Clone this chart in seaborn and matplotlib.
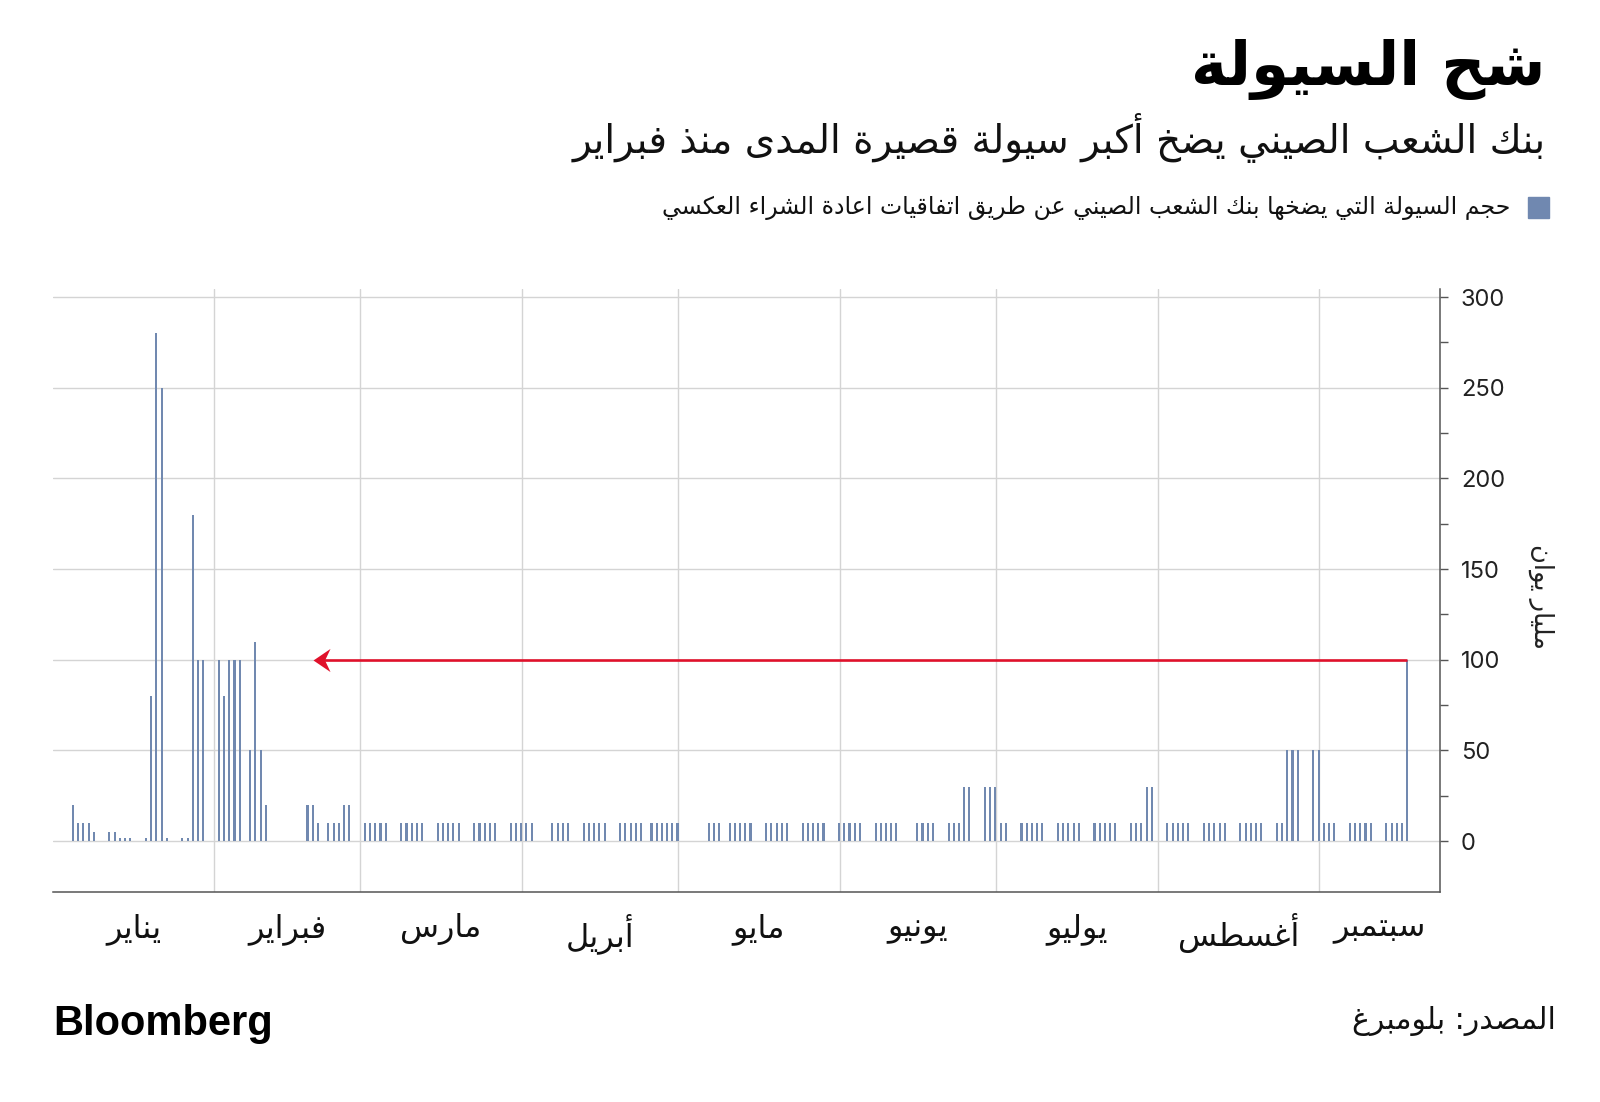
import numpy as np
import pandas as pd
import seaborn as sns
import matplotlib.pyplot as plt
import matplotlib.dates as mdates
from matplotlib.path import Path

# PBOC reverse repo injections, bn yuan, one run of consecutive calendar days per row
run_starts = ['2021-01-04', '2021-01-11', '2021-01-18', '2021-01-25',
              '2021-02-01', '2021-02-07', '2021-02-18', '2021-02-22',
              '2021-03-01', '2021-03-08', '2021-03-15', '2021-03-22', '2021-03-29',
              '2021-04-06', '2021-04-12', '2021-04-19', '2021-04-25',
              '2021-05-06', '2021-05-10', '2021-05-17', '2021-05-24', '2021-05-31',
              '2021-06-07', '2021-06-15', '2021-06-21', '2021-06-28',
              '2021-07-05', '2021-07-12', '2021-07-19', '2021-07-26',
              '2021-08-02', '2021-08-09', '2021-08-16', '2021-08-23', '2021-08-30',
              '2021-09-06', '2021-09-13']
run_values = [[20, 10, 10, 10, 5], [5, 5, 2, 2, 2], [2, 80, 280, 250, 2], [2, 2, 180, 100, 100],
              [100, 80, 100, 100, 100], [50, 110, 50, 20], [20, 20, 10], [10, 10, 10, 20, 20],
              [10] * 5, [10] * 5, [10] * 5, [10] * 5, [10] * 5,
              [10] * 4, [10] * 5, [10] * 5, [10] * 6,
              [10] * 3, [10] * 5, [10] * 5, [10] * 5, [10] * 5,
              [10] * 5, [10] * 4, [10, 10, 10, 30, 30], [30, 30, 30, 10, 10],
              [10] * 5, [10] * 5, [10] * 5, [10, 10, 10, 30, 30],
              [10] * 5, [10] * 5, [10] * 5, [10, 10, 50, 50, 50], [50, 50, 10, 10, 10],
              [10] * 5, [10, 10, 10, 10, 100]]

month_starts = ['2021-01-01', '2021-02-01', '2021-03-01', '2021-04-01', '2021-05-01',
                '2021-06-01', '2021-07-01', '2021-08-01', '2021-09-01']
month_names = ['يناير', 'فبراير', 'مارس', 'أبريل', 'مايو', 'يونيو', 'يوليو', 'أغسطس', 'سبتمبر']
x_end = '2021-09-24 04:00'
y_ticks = [0, 50, 100, 150, 200, 250, 300]

arrow_level = 100
arrow_from = '2021-09-17'
arrow_to = '2021-02-19'

title = 'شح السيولة'
subtitle = 'بنك الشعب الصيني يضخ أكبر سيولة قصيرة المدى منذ فبراير'
legend_text = 'حجم السيولة التي يضخها بنك الشعب الصيني عن طريق اتفاقيات اعادة الشراء العكسي'
y_label = 'مليار يوان'
source = 'المصدر: بلومبرغ'

BAR = '#7189b0'
RED = '#e0112b'
GRID = '#d4d4d4'
AXIS = '#555555'
SHIFT = 0.87  # bars sit a little after the day start

# --- tiny arabic shaper (matplotlib has no RTL / joining) ---
FOUR = {'ب': 0xFE8F, 'ت': 0xFE95, 'ث': 0xFE99, 'ج': 0xFE9D, 'ح': 0xFEA1, 'خ': 0xFEA5,
        'س': 0xFEB1, 'ش': 0xFEB5, 'ص': 0xFEB9, 'ض': 0xFEBD, 'ط': 0xFEC1, 'ظ': 0xFEC5,
        'ع': 0xFEC9, 'غ': 0xFECD, 'ف': 0xFED1, 'ق': 0xFED5, 'ك': 0xFED9, 'ل': 0xFEDD,
        'م': 0xFEE1, 'ن': 0xFEE5, 'ه': 0xFEE9, 'ي': 0xFEF1, 'ئ': 0xFE89}
TWO = {'آ': 0xFE81, 'أ': 0xFE83, 'ؤ': 0xFE85, 'إ': 0xFE87, 'ا': 0xFE8D, 'ة': 0xFE93,
       'د': 0xFEA9, 'ذ': 0xFEAB, 'ر': 0xFEAD, 'ز': 0xFEAF, 'و': 0xFEED, 'ى': 0xFEEF}
ONE = {'ء': 0xFE80}
LAM_ALEF = {'آ': 0xFEF5, 'أ': 0xFEF7, 'إ': 0xFEF9, 'ا': 0xFEFB}


def ar(text):
    out = []
    i, n = 0, len(text)
    while i < n:
        c = text[i]
        prev = text[i - 1] if i > 0 else ''
        nxt = text[i + 1] if i + 1 < n else ''
        p = prev in FOUR
        if c == 'ل' and nxt in LAM_ALEF:
            out.append(chr(LAM_ALEF[nxt] + (1 if p else 0)))
            i += 2
            continue
        if c in FOUR:
            q = nxt in FOUR or nxt in TWO
            b = FOUR[c]
            out.append(chr(b + 3 if p and q else b + 1 if p else b + 2 if q else b))
        elif c in TWO:
            out.append(chr(TWO[c] + (1 if p else 0)))
        elif c in ONE:
            out.append(chr(ONE[c]))
        else:
            out.append(c)
        i += 1
    return ''.join(out)[::-1]


sns.set_style('white')
plt.rcParams['font.family'] = ['DejaVu Sans']

dates = []
vals = []
for start, v in zip(run_starts, run_values):
    dates.extend(pd.date_range(start, periods=len(v), freq='D'))
    vals.extend(v)
xs = mdates.date2num(pd.DatetimeIndex(dates).to_pydatetime()) + SHIFT

fig = plt.figure(figsize=(16, 11.02), dpi=100)
ax = fig.add_axes([0.033, 0.1906, 0.867, 0.5472])

sns.barplot(x=xs, y=vals, native_scale=True, width=0.4, color=BAR, saturation=1,
            errorbar=None, linewidth=0, ax=ax)

# arrow
ax_from = mdates.date2num(pd.Timestamp(arrow_from)) + SHIFT
ax_to = mdates.date2num(pd.Timestamp(arrow_to)) + SHIFT
ax.plot([ax_from, ax_to + 1.5], [arrow_level, arrow_level], color=RED, lw=1.9, solid_capstyle='butt', zorder=5)
head = Path([(0, 0), (1.0, 0.68), (0.68, 0), (1.0, -0.68), (0, 0)],
            [Path.MOVETO, Path.LINETO, Path.LINETO, Path.LINETO, Path.CLOSEPOLY])
ax.plot([ax_to], [arrow_level], marker=head, markersize=24.5, color=RED, mec=RED, mew=0, zorder=6)

ms = mdates.date2num(pd.DatetimeIndex(month_starts).to_pydatetime())
xe = mdates.date2num(pd.Timestamp(x_end))
edges = np.append(ms, xe)
mids = (edges[:-1] + edges[1:]) / 2

ax.set_xlim(ms[0], xe)
ax.set_ylim(-28, 304.5)

ax.set_xticks(ms[1:])
ax.set_xticklabels([])
ax.set_xticks(mids, minor=True)
ax.set_xticklabels([ar(m) for m in month_names], minor=True, fontsize=23, color='#111')
ax.tick_params(axis='x', which='major', length=8, width=1, color=AXIS, direction='out')
ax.tick_params(axis='x', which='minor', length=0, pad=15)

ax.yaxis.tick_right()
ax.set_yticks(y_ticks)
ax.set_yticks(np.arange(25, 300, 50), minor=True)
ax.set_yticklabels([str(t) for t in y_ticks], fontsize=17, color='#222', family='Inter')
ax.tick_params(axis='y', which='both', length=6, width=1, color=AXIS, direction='out', pad=9)

ax.grid(axis='y', which='major', color=GRID, lw=1)
ax.grid(axis='x', which='major', color=GRID, lw=1)
ax.set_axisbelow(True)
for s in ['top', 'left']:
    ax.spines[s].set_visible(False)
for s in ['bottom', 'right']:
    ax.spines[s].set_color(AXIS)
    ax.spines[s].set_linewidth(1.1)
ax.set_xlabel('')
ax.set_ylabel('')

ax.text(1.073, 0.49, ar(y_label), transform=ax.transAxes, rotation=270,
        ha='center', va='center', fontsize=18.5, color='#222')

# header
fig.text(0.966, 0.937, ar(title), ha='right', va='center', fontsize=44, weight='bold', color='#000')
fig.text(0.966, 0.875, ar(subtitle), ha='right', va='center', fontsize=28, color='#111')
fig.patches.append(plt.Rectangle((1528 / 1600, 1 - 218 / 1102), 21 / 1600, 21 / 1102,
                                 transform=fig.transFigure, color='#7088b0', figure=fig))
fig.text(1510 / 1600, 1 - 208 / 1102, ar(legend_text), ha='right', va='center', fontsize=17, color='#111')

# footer
fig.text(53 / 1600, 1 - 1024 / 1102, 'Bloomberg', ha='left', va='center', fontsize=30,
         weight='bold', family='Liberation Sans', color='#000')
fig.text(1556 / 1600, 1 - 1021 / 1102, ar(source), ha='right', va='center', fontsize=21.5, color='#111')

fig.savefig('out.png', dpi=100)
